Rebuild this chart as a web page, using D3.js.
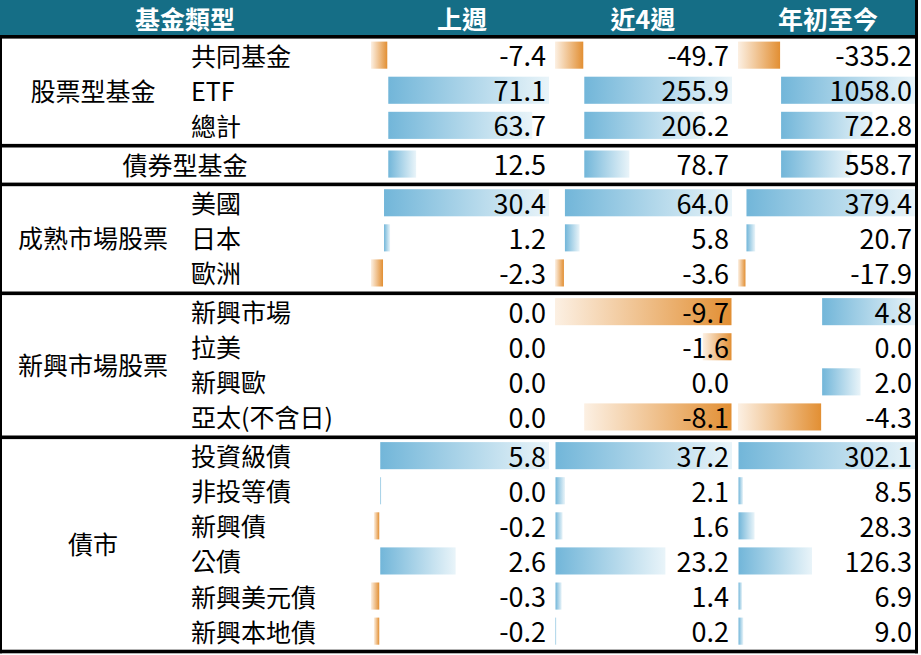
<!DOCTYPE html>
<html lang="zh-Hant">
<head>
<meta charset="utf-8">
<title>基金資金流向</title>
<script src="https://cdn.jsdelivr.net/npm/d3@7"></script>
<style>
	body { margin: 0; background: #fff; }
	svg { display: block; font-family: "Noto Sans CJK TC", "Noto Sans", sans-serif; }
	.num { font-size: 27px; text-anchor: end; fill: #000; }
	.label { font-size: 25px; fill: #000; }
	.head { font-size: 25px; font-weight: bold; fill: #fff; text-anchor: middle; }
</style>
</head>
<body>
<svg width="921" height="655"></svg>
<script>
// Column titles (the first one spans the two label columns)
const headers = ["基金類型", "上週", "近4週", "年初至今"];

// The five blocks of the table
const groupNames = ["股票型基金", "債券型基金", "成熟市場股票", "新興市場股票", "債市"];

// One entry per row, and the block each row belongs to
const rowLabels = ["共同基金", "ETF", "總計", "債券型基金", "美國", "日本", "歐洲",
	"新興市場", "拉美", "新興歐", "亞太(不含日)",
	"投資級債", "非投等債", "新興債", "公債", "新興美元債", "新興本地債"];
const rowGroup = [0, 0, 0, 1, 2, 2, 2, 3, 3, 3, 3, 4, 4, 4, 4, 4, 4];

// Flows for each period (the 0.04 shows as 0.0 but has a hairline bar)
const lastWeek = [-7.4, 71.1, 63.7, 12.5, 30.4, 1.2, -2.3, 0.0, 0.0, 0.0, 0.0,
	5.8, 0.04, -0.2, 2.6, -0.3, -0.2];
const last4Weeks = [-49.7, 255.9, 206.2, 78.7, 64.0, 5.8, -3.6, -9.7, -1.6, 0.0, -8.1,
	37.2, 2.1, 1.6, 23.2, 1.4, 0.2];
const yearToDate = [-335.2, 1058.0, 722.8, 558.7, 379.4, 20.7, -17.9, 4.8, 0.0, 2.0, -4.3,
	302.1, 8.5, 28.3, 126.3, 6.9, 9.0];

// Blocks whose data bars were scaled together (the first two share one range)
const barBlock = [0, 0, 1, 2, 3];

document.addEventListener("DOMContentLoaded", function() {
	renderTable([lastWeek, last4Weeks, yearToDate]);
});

/**
 * @method renderTable draws the header, the rows, the data bars and the rules
 * @param {Array} series the three value arrays, one per period column
 */
function renderTable(series) {
	const svg = d3.select("svg");

	const headerH = 35;
	const rowH = 35.1;
	const sepH = 3.6;
	const tableRight = 915;
	const textShift = -1.5;		// nudges the text up to sit like the original

	const barRanges = [[371, 549], [555, 732], [738, 915]];	// room for the bars
	const numRight = [546, 729, 912];		// right edge of the numbers
	const headCenter = [185, 462, 643, 828];

	// Top of each row: rows stack, with a black rule between blocks
	const rowTop = [];
	const sepTop = [headerH];
	let y = headerH + sepH;
	rowLabels.forEach((d, i) => {
		if (i > 0 && rowGroup[i] !== rowGroup[i - 1]) {
			sepTop.push(y);
			y += sepH;
		}
		rowTop.push(y);
		y += rowH;
	});
	sepTop.push(y);

	const defs = svg.append("defs");
	addGradient(defs, "posGrad", "#72b6d9", "#e9f4f9");
	addGradient(defs, "negGrad", "#fcf0e3", "#e28f33");

	svg.append("rect")
	   .attr("x", 0).attr("y", 0)
	   .attr("width", tableRight).attr("height", headerH)
	   .attr("fill", "#156e86");

	svg.selectAll(".head")
	   .data(headers)
	   .enter()
	   .append("text")
	   .attr("class", "head")
	   .attr("x", (d, i) => headCenter[i])
	   .attr("y", headerH / 2)
	   .attr("dominant-baseline", "central")
	   .text(d => d);

	// Data bars: one linear scale per column and per bar block
	series.forEach((values, c) => {
		d3.range(d3.max(barBlock) + 1).forEach(b => {
			const rows = d3.range(rowLabels.length).filter(i => barBlock[rowGroup[i]] === b);
			const lo = Math.min(0, d3.min(rows, i => values[i]));
			const hi = Math.max(0, d3.max(rows, i => values[i]));
			if (lo === hi) return;			// every value is zero: no bars

			const xScale = d3.scaleLinear()
							 .domain([lo, hi])
							 .range(barRanges[c]);

			svg.append("g")
			   .selectAll("rect")
			   .data(rows.filter(i => values[i] !== 0))
			   .enter()
			   .append("rect")
			   .attr("x", i => values[i] > 0 ? xScale(0) + 0.5 : xScale(values[i]))
			   .attr("y", i => rowTop[i] + 3)
			   .attr("width", i => Math.max(1, Math.abs(xScale(values[i]) - xScale(0)) - 0.5))
			   .attr("height", rowH - 8)
			   .attr("fill", i => values[i] > 0 ? "url(#posGrad)" : "url(#negGrad)");
		});
	});

	// Numbers
	series.forEach((values, c) => {
		svg.append("g")
		   .selectAll("text")
		   .data(values)
		   .enter()
		   .append("text")
		   .attr("class", "num")
		   .attr("x", numRight[c])
		   .attr("y", (d, i) => rowTop[i] + rowH / 2 + textShift)
		   .attr("dominant-baseline", "central")
		   .text(d => d.toFixed(1));
	});

	// Row labels; a block with one row uses its name across both label columns
	const single = groupNames.map((g, k) => rowGroup.filter(r => r === k).length === 1);

	svg.append("g")
	   .selectAll("text")
	   .data(rowLabels)
	   .enter()
	   .append("text")
	   .attr("class", "label")
	   .attr("x", (d, i) => single[rowGroup[i]] ? 185 : 191)
	   .attr("text-anchor", (d, i) => single[rowGroup[i]] ? "middle" : "start")
	   .attr("y", (d, i) => rowTop[i] + rowH / 2 + textShift)
	   .attr("dominant-baseline", "central")
	   .text(d => d);

	svg.append("g")
	   .selectAll("text")
	   .data(groupNames.map((g, k) => k).filter(k => !single[k]))
	   .enter()
	   .append("text")
	   .attr("class", "label")
	   .attr("x", 93)
	   .attr("text-anchor", "middle")
	   .attr("y", k => {
			const rows = d3.range(rowLabels.length).filter(i => rowGroup[i] === k);
			return (rowTop[rows[0]] + rowTop[rows[rows.length - 1]] + rowH) / 2 + textShift;
	   })
	   .attr("dominant-baseline", "central")
	   .text(k => groupNames[k]);

	// Black rules between blocks and the outer frame
	svg.append("g")
	   .selectAll("rect")
	   .data(sepTop)
	   .enter()
	   .append("rect")
	   .attr("x", 0).attr("y", d => d)
	   .attr("width", tableRight + 3).attr("height", sepH)
	   .attr("fill", "#000");

	svg.append("rect")
	   .attr("x", 0).attr("y", headerH)
	   .attr("width", 2).attr("height", y + sepH - headerH)
	   .attr("fill", "#000");

	svg.append("rect")
	   .attr("x", tableRight).attr("y", 0)
	   .attr("width", 3).attr("height", y + sepH)
	   .attr("fill", "#000");
}

/**
 * @method addGradient adds a left-to-right gradient used to fill the bars
 */
function addGradient(defs, id, from, to) {
	const g = defs.append("linearGradient")
				  .attr("id", id)
				  .attr("x1", 0).attr("x2", 1)
				  .attr("y1", 0).attr("y2", 0);
	g.append("stop").attr("offset", 0).attr("stop-color", from);
	g.append("stop").attr("offset", 1).attr("stop-color", to);
}
</script>
</body>
</html>
